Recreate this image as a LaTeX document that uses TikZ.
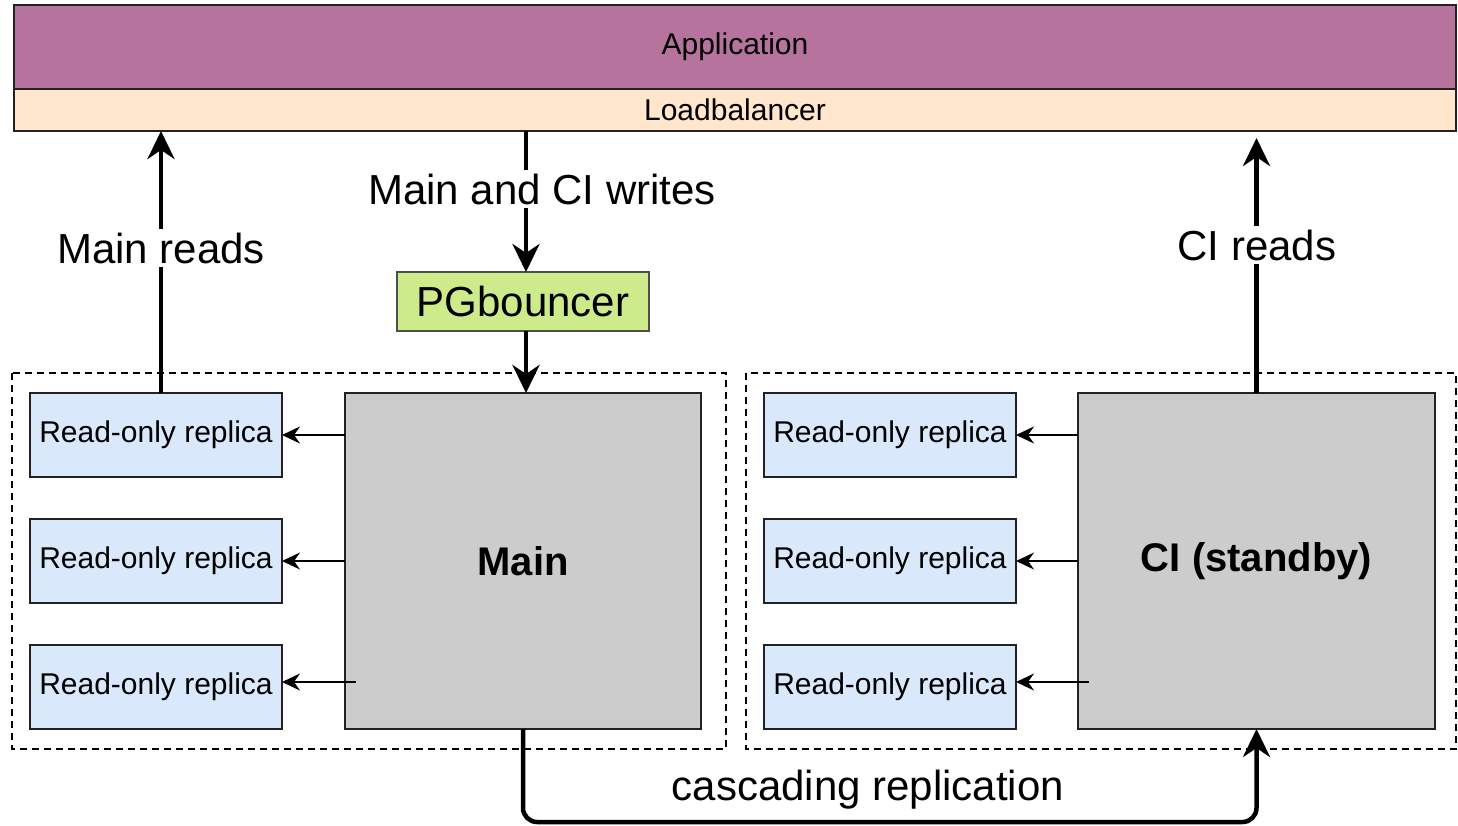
\documentclass[tikz,border=0pt]{standalone}
\usepackage{fontspec}
\setmainfont{Liberation Sans}
\usetikzlibrary{arrows.meta}
\definecolor{appfill}{HTML}{B5739D}
\definecolor{lbfill}{HTML}{FFE6CC}
\definecolor{pgfillc}{HTML}{CDEB8B}
\definecolor{replfill}{HTML}{DAE8FC}
\definecolor{dbfill}{HTML}{CCCCCC}
\definecolor{edge}{HTML}{222222}
\tikzset{
  box/.style={draw=edge, line width=2pt, inner sep=0pt, outer sep=0pt, align=center},
  replica/.style={box, fill=replfill, minimum width=252pt, minimum height=84pt,
    font=\fontsize{30}{36}\selectfont},
  dbbox/.style={box, fill=dbfill, minimum width=356pt, minimum height=336pt,
    font=\fontsize{40}{48}\selectfont\bfseries},
  group/.style={draw=black, line width=1.6pt, dash pattern=on 7pt off 5pt, inner sep=0pt},
  bigarrow/.style={line width=4.5pt, -{Stealth[length=28pt, width=27pt, inset=9pt]}},
  smallarrow/.style={line width=2pt, -{Stealth[length=18pt, width=17pt, inset=6pt]}},
  biglabel/.style={fill=white, inner sep=4pt, font=\fontsize{42}{50}\selectfont},
}
\begin{document}
\begin{tikzpicture}[x=1pt, y=-1pt]
\useasboundingbox (0,0) rectangle (1458,825);

% replication groups
\draw[group] (12,373) rectangle (726,749);
\draw[group] (746,373) rectangle (1456,749);

% application tier
\node[box, fill=appfill, minimum width=1442pt, minimum height=84pt,
      font=\fontsize{30}{36}\selectfont] (app) at (735,47) {Application};
\node[box, fill=lbfill, minimum width=1442pt, minimum height=42pt,
      font=\fontsize{30}{36}\selectfont] (lb) at (735,110) {Loadbalancer};

% connection pooler
\node[box, draw=edge!80, fill=pgfillc, minimum width=252pt, minimum height=59pt,
      font=\fontsize{42}{50}\selectfont] (pgb) at (523,301.5) {PGbouncer};

% primary databases
\node[dbbox] (main) at (523,561) {Main};
\node[dbbox, minimum width=357pt] (ci) at (1256.5,561) {CI (standby)};

% replicas
\node[replica] (rL1) at (156,435) {Read-only replica};
\node[replica] (rL2) at (156,561) {Read-only replica};
\node[replica] (rL3) at (156,687) {Read-only replica};
\node[replica] (rR1) at (890,435) {Read-only replica};
\node[replica] (rR2) at (890,561) {Read-only replica};
\node[replica] (rR3) at (890,687) {Read-only replica};

% reads and writes
\draw[bigarrow] ([xshift=5pt]rL1.north) -- ([xshift=5pt]rL1.north |- lb.south);
\node[biglabel] (mreads) at (161,248) {Main reads};

\coordinate (cireadtip) at ([yshift=-7pt]ci.north |- lb.south);
\draw[bigarrow] (ci.north) -- (cireadtip);
\node[biglabel] (creads) at (1257,245) {CI reads};

\draw[bigarrow] ([xshift=3pt]pgb.north |- lb.south) -- ([xshift=3pt]pgb.north);
\node[biglabel] (writes) at (542,189) {Main and CI writes};
\draw[bigarrow] ([xshift=3pt]pgb.south) -- ([xshift=3pt]main.north);

% streaming to replicas
\draw[smallarrow] (main.west |- rL1.east) -- (rL1.east);
\draw[smallarrow] (main.west |- rL2.east) -- (rL2.east);
\coordinate (m3) at ([xshift=11pt, yshift=5pt]main.west |- rL3.east);
\draw[smallarrow] (m3) -- ([yshift=5pt]rL3.east);
\draw[smallarrow] (ci.west |- rR1.east) -- (rR1.east);
\draw[smallarrow] (ci.west |- rR2.east) -- (rR2.east);
\coordinate (c3) at ([xshift=11pt, yshift=5pt]ci.west |- rR3.east);
\draw[smallarrow] (c3) -- ([yshift=5pt]rR3.east);

% cascading replication
\draw[bigarrow, rounded corners=14pt] (main.south) -- ++(0,93) -| (ci.south);
\node[font=\fontsize{42}{50}\selectfont, inner sep=0pt] (casc) at (868,790) {cascading replication};
\end{tikzpicture}
\end{document}
